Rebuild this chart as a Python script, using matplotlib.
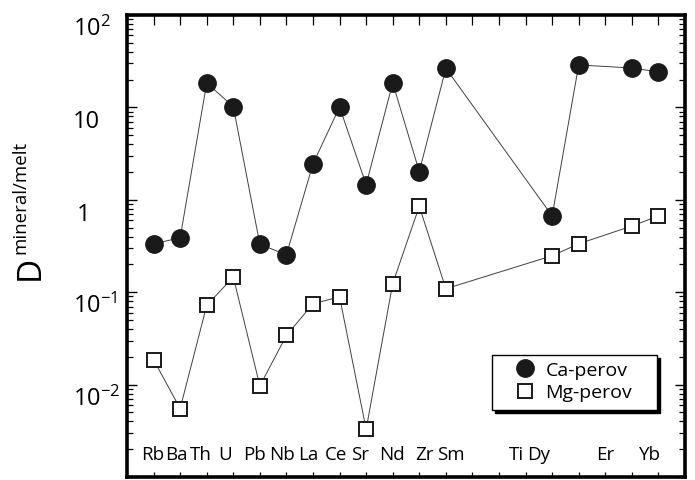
import matplotlib
matplotlib.use("Agg")
import matplotlib.pyplot as plt
import matplotlib.transforms as mtransforms
from matplotlib.patches import Rectangle
from matplotlib.ticker import LogLocator, FixedLocator, NullFormatter
import numpy as np

plt.rcParams['font.family'] = ['Open Sans', 'DejaVu Sans']

# ---- data ----
elements = ['Rb', 'Ba', 'Th', 'U', 'Pb', 'Nb', 'La', 'Ce', 'Sr', 'Nd', 'Zr', 'Sm',
            'Ti', 'Dy', 'Er', 'Yb']
xpos = [0, 1, 2, 3, 4, 5, 6, 7, 8, 9, 10, 11, 15, 16, 18, 19]
ca_perov = [0.334, 0.388, 18.4, 10.2, 0.33, 0.254, 2.45, 10.1, 1.46, 18.4, 2.02, 26.5,
            0.67, 28.8, 26.7, 24.2]
mg_perov = [0.0186, 0.0055, 0.072, 0.146, 0.0097, 0.034, 0.075, 0.089, 0.00329, 0.124,
            0.85, 0.109, 0.248, 0.334, 0.52, 0.67]
ytick_vals = [1e2, 1e1, 1e0, 1e-1, 1e-2]
ytick_labels = [r'$\mathregular{10^{2}}$', '10', '1', r'$\mathregular{10^{-1}}$',
                r'$\mathregular{10^{-2}}$']

# layout (label placement, not data)
label_x = [-0.04, 0.86, 1.76, 2.71, 3.8, 4.85, 5.83, 6.88, 7.78, 8.96, 10.2, 11.2,
           13.65, 14.5, 16.98, 18.7]

W, H = 695, 481
fig = plt.figure(figsize=(W / 100, H / 100), dpi=100)
L, R, T, B = 127, 685, 16, 478
ax = fig.add_axes([L / W, 1 - B / H, (R - L) / W, (B - T) / H])

ax.set_yscale('log')
ax.set_ylim(1e-3, 1e2)
ax.set_xlim(-1, 20)

line_col = '#404040'
ax.plot(xpos, ca_perov, '-', color=line_col, lw=0.7, zorder=2)
ax.plot(xpos, ca_perov, 'o', ms=12.5, color='#1a1a1a', mec='#1a1a1a', zorder=3,
        label='Ca-perov', linestyle='none')
ax.plot(xpos, mg_perov, '-', color=line_col, lw=0.7, zorder=2)
ax.plot(xpos, mg_perov, 's', ms=10, mfc='white', mec='#1a1a1a', mew=1.4, zorder=3,
        label='Mg-perov', linestyle='none')

# spines
for s in ax.spines.values():
    s.set_linewidth(2.6)
    s.set_color('black')

# y ticks
ax.yaxis.set_major_locator(LogLocator(base=10, numticks=20))
ax.yaxis.set_minor_locator(LogLocator(base=10, subs=np.arange(2, 10), numticks=20))
ax.yaxis.set_major_formatter(NullFormatter())
ax.yaxis.set_minor_formatter(NullFormatter())
ax.tick_params(axis='y', which='major', direction='in', length=7.5, width=1.0,
               left=True, right=True)
ax.tick_params(axis='y', which='minor', direction='in', length=4, width=0.9,
               left=True, right=True)

# x ticks: short on bottom, longer on top
allx = np.arange(0, 20)
ax.xaxis.set_major_locator(FixedLocator(allx))
ax.xaxis.set_minor_locator(FixedLocator(allx))
ax.xaxis.remove_overlapping_locs = False
ax.xaxis.set_major_formatter(NullFormatter())
ax.xaxis.set_minor_formatter(NullFormatter())
ax.tick_params(axis='x', which='major', direction='in', length=3.5, width=0.9,
               bottom=True, top=False)
ax.tick_params(axis='x', which='minor', direction='in', length=7, width=0.9,
               bottom=False, top=True)

# y tick labels (placed below their ticks, as in the reference)
off = mtransforms.ScaledTranslation(0, -20 / 100, fig.dpi_scale_trans)
ytr = mtransforms.blended_transform_factory(fig.transFigure, ax.transData) + off
for v, lab in zip(ytick_vals, ytick_labels):
    if lab == '1':
        fig.text(84 / W, v, lab, transform=ytr, ha='center', va='baseline', fontsize=17)
    else:
        fig.text(73 / W, v, lab, transform=ytr, ha='left', va='baseline', fontsize=17)

# element labels inside axes
xtr = mtransforms.blended_transform_factory(ax.transData, fig.transFigure)
for xl, el in zip(label_x, elements):
    ax.text(xl, 1 - 460 / H, el, transform=xtr, ha='center', va='baseline', fontsize=13.5)

# y axis label
fig.text(30 / W, 1 - 268 / H, 'D', rotation=90, ha='center', va='center', fontsize=24)
fig.text(20 / W, 1 - 197 / H, 'mineral/melt', rotation=90, ha='center', va='center',
         fontsize=13.5)

# legend frame with hard black shadow
def axfrac(px, py):
    return (px - L) / (R - L), (B - py) / (B - T)

bx0, by0 = axfrac(492, 411)
bx1, by1 = axfrac(657, 356)
sx, sy = 3 / (R - L), 3 / (B - T)
ax.add_patch(Rectangle((bx0 + sx, by0 - sy), bx1 - bx0, by1 - by0, transform=ax.transAxes,
                       facecolor='black', edgecolor='black', lw=1.0, zorder=5))
ax.add_patch(Rectangle((bx0, by0), bx1 - bx0, by1 - by0, transform=ax.transAxes,
                       facecolor='white', edgecolor='black', lw=1.0, zorder=6))

lx, ly = axfrac(513, 362)
leg = ax.legend(loc='upper left', bbox_to_anchor=(lx, ly), borderaxespad=0, borderpad=0,
                fontsize=14, frameon=False, handlelength=1.2, handletextpad=0.47,
                labelspacing=0.23)
leg.set_zorder(7)

fig.savefig('out.png', dpi=100)
